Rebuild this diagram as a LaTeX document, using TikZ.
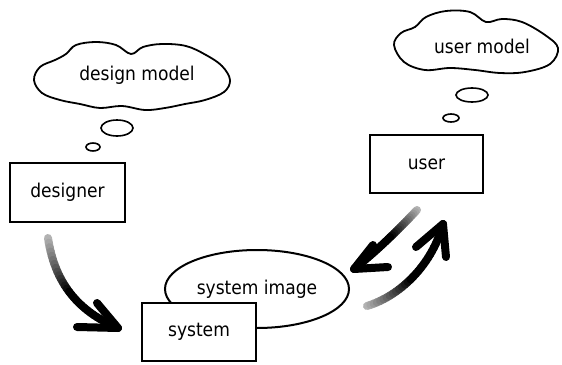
\documentclass[tikz,border=0pt]{standalone}
\usepackage{fontspec}
\setmainfont{DejaVu Sans}
\newfontfamily\lblfont{DejaVu Sans Condensed}
\usetikzlibrary{shapes.geometric}
\newcommand\gradcurve[4]{%
  \path (#1) .. controls (#2) and (#3) .. (#4)
    \foreach \i in {0,...,30}{ coordinate[pos=\i/30] (g\i) };
  \foreach \i in {0,...,29}{%
    \pgfmathtruncatemacro\j{\i+1}%
    \pgfmathtruncatemacro\k{min(100,30+\i*5)}%
    \draw[line width=8pt,line cap=round,black!\k] (g\i) -- (g\j);
  }%
}
\begin{document}
\begin{tikzpicture}[x=1pt,y=-1pt,
  txt/.style={font=\lblfont\fontsize{19}{22}\selectfont},
  box/.style={draw,line width=2.6pt,fill=white,inner sep=0pt,txt},
  lbl/.style={inner sep=0pt,txt},
  cloudline/.style={line width=1.8pt},
  bubble/.style={line width=1.6pt},
  head/.style={line width=8pt,line cap=round,line join=round}]
\fill[white] (0,0) rectangle (562,364);
\useasboundingbox (0,0) rectangle (562,364);

% design model cloud
\draw[cloudline] plot[smooth cycle,tension=0.6] coordinates {
 (34,80) (40,67) (55,60) (66,54) (76,45) (96,42) (116,45) (131,54)
 (143,47) (162,44) (186,46) (206,55) (222,66) (230,80) (224,92)
 (205,100) (185,104) (165,108) (145,110) (122,106) (100,108)
 (80,104) (60,100) (42,93)};
\node[lbl] (dmodel) at (137,75) {design model};
\draw[bubble] (117,128) ellipse [x radius=16pt, y radius=8pt];
\draw[bubble] (93,147) ellipse [x radius=7pt, y radius=4pt];

% user model cloud
\draw[cloudline] plot[smooth cycle,tension=0.6] coordinates {
 (394,45) (401,33) (415,27) (426,17) (446,11) (470,12) (486,22)
 (502,19) (522,22) (545,35) (558,48) (550,64) (525,72) (500,73)
 (475,70) (450,68) (425,70) (404,62)};
\node[lbl] (umodel) at (482,46) {user model};
\draw[bubble] (472,95) ellipse [x radius=16pt, y radius=7pt];
\draw[bubble] (451,118) ellipse [x radius=8pt, y radius=4pt];

% boxes
\node[box,minimum width=115pt,minimum height=59pt] (designer) at (67.5,192.5) {designer};
\node[box,minimum width=113pt,minimum height=58pt] (user) at (426.5,164) {user};
\node[draw,ellipse,line width=2pt,inner sep=0pt,minimum width=184pt,minimum height=78pt,
      txt] (image) at (257,289) {system image};
\node[box,minimum width=114pt,minimum height=58pt] (system) at (199,332) {system};

% designer -> system arrow
\coordinate (d0) at (48,238);
\coordinate (d1) at (55,285);
\coordinate (d2) at (80,312);
\coordinate (dt) at (118,328);
\coordinate (db1) at (97,303);
\coordinate (db2) at (77,327);
\gradcurve{d0}{d1}{d2}{dt}
\draw[head] (db1) -- (dt) -- (db2);

% user -> system image arrow
\coordinate (u0) at (417,210);
\coordinate (u1) at (400,228);
\coordinate (u2) at (378,250);
\coordinate (ut) at (354,269);
\coordinate (ub1) at (373,245);
\coordinate (ub2) at (388,267);
\gradcurve{u0}{u1}{u2}{ut}
\draw[head] (ub1) -- (ut) -- (ub2);

% system image -> user arrow
\coordinate (s0) at (367,306);
\coordinate (s1) at (400,296);
\coordinate (s2) at (432,265);
\coordinate (st) at (443,224);
\coordinate (sb1) at (416,247);
\coordinate (sb2) at (446,257);
\gradcurve{s0}{s1}{s2}{st}
\draw[head] (sb1) -- (st) -- (sb2);
\end{tikzpicture}
\end{document}
